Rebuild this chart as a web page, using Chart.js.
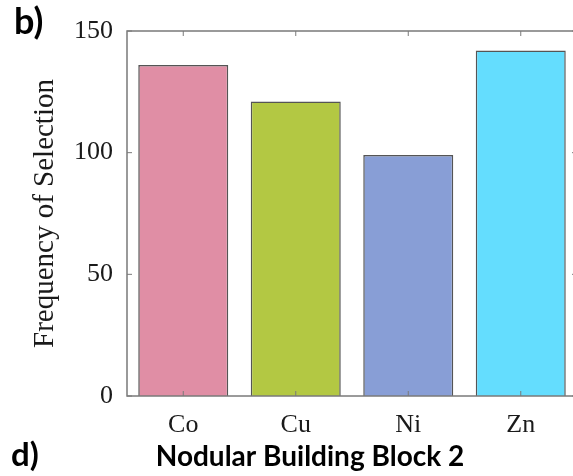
<!DOCTYPE html>
<html>
<head>
<meta charset="utf-8">
<script src="https://cdn.jsdelivr.net/npm/chart.js@4.4.0/dist/chart.umd.min.js"></script>
<style>
    html, body { margin: 0; padding: 0; background: #fff; overflow: hidden; }
    #wrap { width: 580px; height: 476px; }
</style>
</head>
<body>
<div id="wrap"><canvas id="chart1" width="580" height="476"></canvas></div>
<script>
// values
var metals = ["Co", "Cu", "Ni", "Zn"];
var counts = [136, 121, 99, 142];
var barColors = ["#E08EA5", "#B3C843", "#889ED6", "#64DDFE"];
var yTicks = [0, 50, 100, 150];

var axisColor = "#7a7a7a";
var serif = "'Liberation Serif', 'Times New Roman', serif";

// MATLAB style box with inward ticks, positions from the scales
var boxTicks = {
    id: "boxTicks",
    afterDatasetsDraw: function(chart) {
        var ctx = chart.ctx, a = chart.chartArea;
        var x = chart.scales.x, y = chart.scales.y;
        ctx.save();
        ctx.strokeStyle = axisColor;
        ctx.lineWidth = 1.5;
        ctx.strokeRect(a.left, a.top, a.right - a.left, a.bottom - a.top);
        ctx.lineWidth = 1;
        var len = 5;
        for (var i = 0; i < metals.length; i++) {
            var px = x.getPixelForValue(i);
            ctx.beginPath();
            ctx.moveTo(px, a.bottom); ctx.lineTo(px, a.bottom - len);
            ctx.moveTo(px, a.top); ctx.lineTo(px, a.top + len);
            ctx.stroke();
        }
        yTicks.forEach(function(v) {
            var py = y.getPixelForValue(v);
            ctx.beginPath();
            ctx.moveTo(a.left, py); ctx.lineTo(a.left + len, py);
            ctx.moveTo(a.right, py); ctx.lineTo(a.right - len, py);
            ctx.stroke();
        });
        ctx.restore();
    },
    afterDraw: function(chart) {
        var ctx = chart.ctx;
        ctx.save();
        ctx.fillStyle = "#000";
        ctx.textBaseline = "alphabetic";
        ctx.textAlign = "left";
        ctx.font = "bold 36px Lato";
        ctx.fillText("b)", 14, 34);
        ctx.font = "bold 33px Lato";
        ctx.fillText("d)", 11, 466);
        ctx.textAlign = "center";
        ctx.font = "bold 28px Lato";
        ctx.fillText("Nodular Building Block 2", 310, 466);
        ctx.restore();
    }
};

new Chart("chart1", {
    type: "bar",
    data: {
        labels: metals,
        datasets: [{
            data: counts,
            backgroundColor: barColors,
            borderColor: "#555555",
            borderWidth: 1.5,
            categoryPercentage: 0.8,
            barPercentage: 1.0
        }]
    },
    options: {
        responsive: false,
        animation: false,
        layout: { padding: { top: 31, right: 3, bottom: 0, left: 0 } },
        plugins: {
            legend: { display: false },
            tooltip: { enabled: false }
        },
        scales: {
            x: {
                grid: { display: false },
                border: { display: false },
                ticks: {
                    color: "#1a1a1a",
                    font: { family: serif, size: 26 },
                    padding: 6,
                    maxRotation: 0
                },
                afterFit: function(s) { s.height = 80; }
            },
            y: {
                min: 0,
                max: 150,
                grid: { display: false },
                border: { display: false },
                afterBuildTicks: function(s) {
                    s.ticks = yTicks.map(function(v) { return { value: v }; });
                },
                ticks: {
                    color: "#1a1a1a",
                    font: { family: serif, size: 26 },
                    padding: 6
                },
                title: {
                    display: true,
                    text: "Frequency of Selection",
                    color: "#1a1a1a",
                    font: { family: serif, size: 29, weight: "normal" },
                    padding: { top: 28, bottom: 0 }
                },
                afterFit: function(s) { s.width = 127; }
            }
        }
    },
    plugins: [boxTicks]
});
</script>
</body>
</html>
